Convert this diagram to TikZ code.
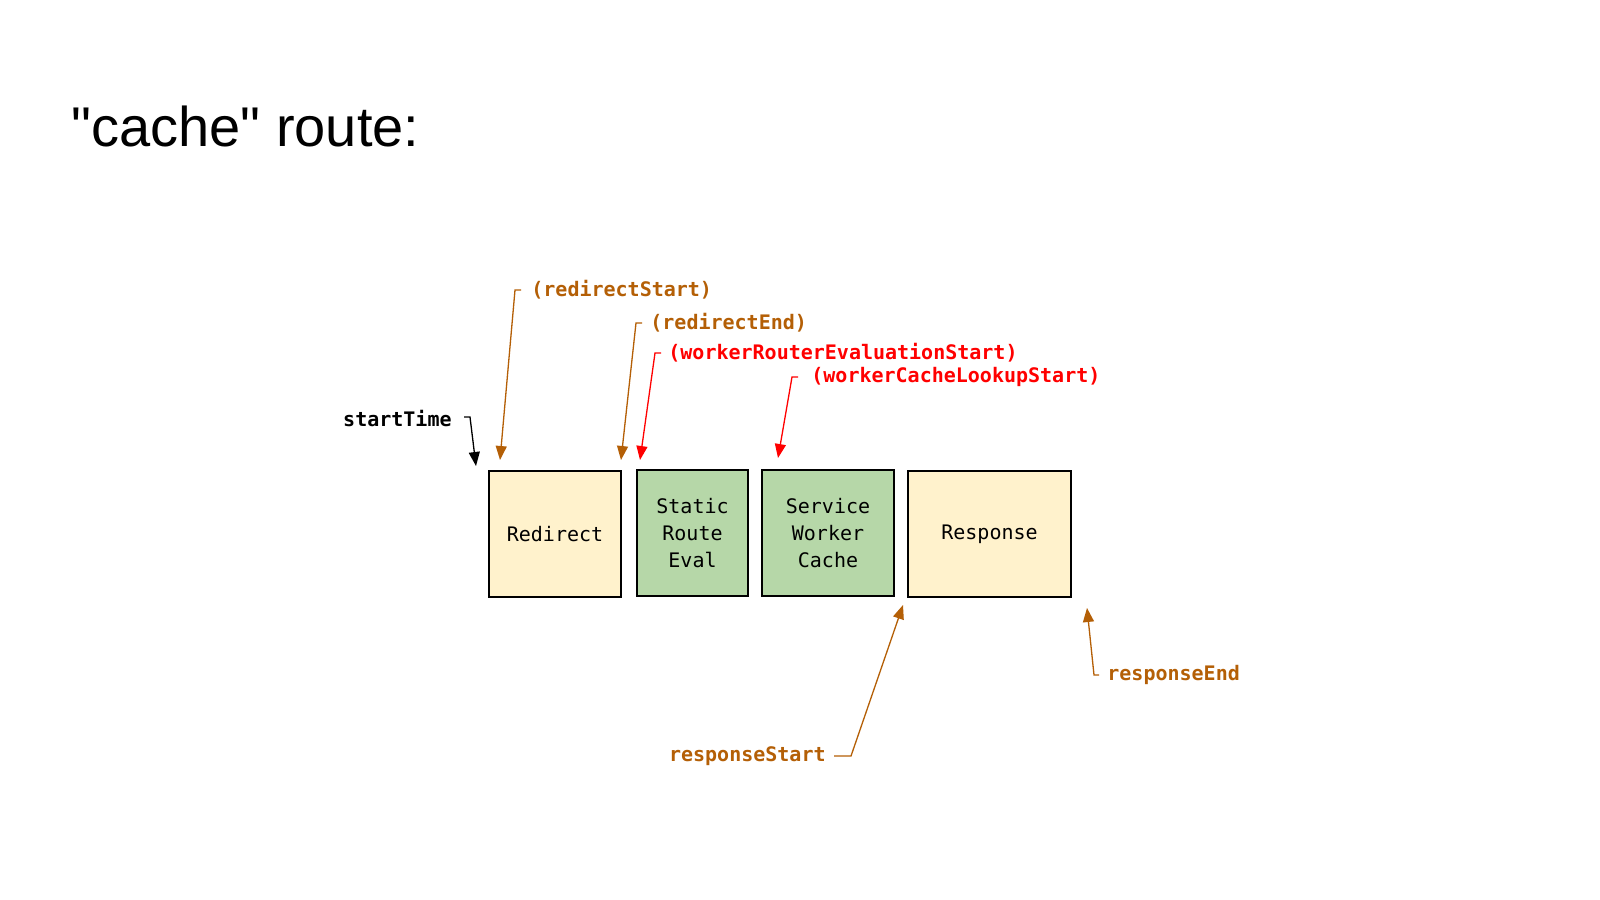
\documentclass[tikz,border=0pt]{standalone}
\usepackage{fontspec}
\setmainfont{Liberation Sans}
\setmonofont{DejaVu Sans Mono}
\usetikzlibrary{arrows.meta}
\definecolor{tagorange}{HTML}{B45F06}
\definecolor{tagred}{HTML}{FF0000}
\definecolor{boxyellow}{HTML}{FFF2CC}
\definecolor{boxgreen}{HTML}{B6D7A8}

\begin{document}
\begin{tikzpicture}[x=0.5pt,y=-0.5pt,
    phase/.style={draw=black, line width=0.75pt, minimum height=63pt, inner sep=0pt,
      align=center, font=\ttfamily\fontsize{10}{13.3}\selectfont},
    tag/.style={font=\ttfamily\bfseries\fontsize{10}{12}\selectfont, inner sep=0pt},
    pointer/.style={-{Triangle[length=7pt,width=5.5pt]}, line width=0.65pt}]
    \useasboundingbox[fill=white] (0,0) rectangle (1600,899);

    % Title
    \node[anchor=base west, inner sep=0pt, font=\fontsize{28}{32}\selectfont] (title) at (71,147) {\textquotedbl cache\textquotedbl{} route:};

    % Phases
    \node[phase, fill=boxyellow, minimum width=66pt] (redirect) at (555,534) {Redirect};
    \node[phase, fill=boxgreen, minimum width=55.5pt] (static) at (692.5,533) {Static\\Route\\Eval};
    \node[phase, fill=boxgreen, minimum width=66pt] (swcache) at (828,533) {Service\\Worker\\Cache};
    \node[phase, fill=boxyellow, minimum width=81.5pt] (response) at (989.5,534) {Response};

    % Timing marks
    \node[tag, anchor=east] (startTime) at (452,419) {startTime};
    \node[tag, anchor=west, text=tagorange] (redirStart) at (531,290) {(redirectStart)};
    \node[tag, anchor=west, text=tagorange] (redirEnd) at (650,323) {(redirectEnd)};
    \node[tag, anchor=west, text=tagred] (routerStart) at (668,353) {(workerRouterEvaluationStart)};
    \node[tag, anchor=west, text=tagred] (lookupStart) at (811,377) {(workerCacheLookupStart)};
    \node[tag, anchor=east, text=tagorange] (respStart) at (826,756) {responseStart};
    \node[tag, anchor=west, text=tagorange] (respEnd) at (1107,675) {responseEnd};

    \coordinate (startTip) at (476,466);
    \coordinate (redirStartTip) at (500,460);
    \coordinate (redirEndTip) at (621,460);
    \coordinate (routerTip) at (640,460);
    \coordinate (lookupTip) at (778,458);
    \coordinate (respStartTip) at (903,605);
    \coordinate (respEndTip) at (1087,608);

    % Pointers
    \draw[pointer] (startTime.east) ++(12,-2) -- ++(6,0) -- (startTip);
    \draw[pointer, tagorange] (redirStart.west) ++(-10,0) -- ++(-6,0) -- (redirStartTip);
    \draw[pointer, tagorange] (redirEnd.west) ++(-8,0) -- ++(-6,0) -- (redirEndTip);
    \draw[pointer, tagred] (routerStart.west) ++(-7,0) -- ++(-6,0) -- (routerTip);
    \draw[pointer, tagred] (lookupStart.west) ++(-13,0) -- ++(-6,0) -- (lookupTip);
    \draw[pointer, tagorange] (respStart.east) ++(8,0) -- ++(17,0) -- (respStartTip);
    \draw[pointer, tagorange] (respEnd.west) ++(-8,0) -- ++(-5,0) -- (respEndTip);
\end{tikzpicture}
\end{document}
